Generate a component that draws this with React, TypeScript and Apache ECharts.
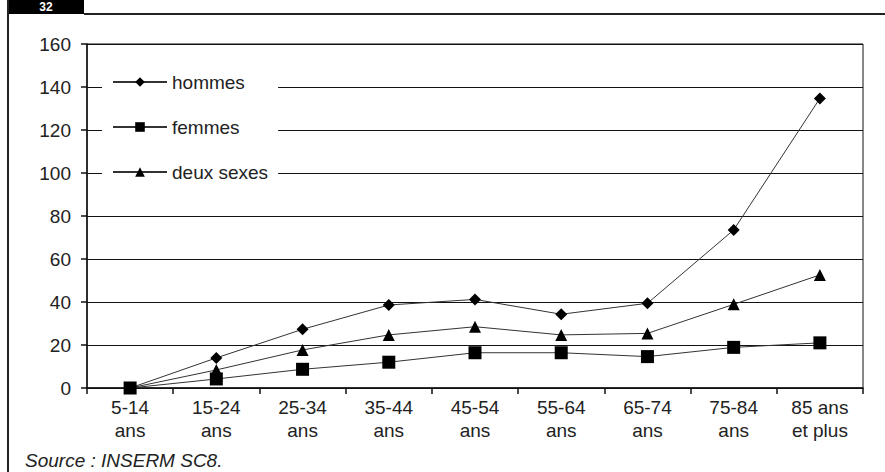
import React, { useEffect, useRef } from "react";
import * as echarts from "echarts";

const categories = [
  "5-14\nans",
  "15-24\nans",
  "25-34\nans",
  "35-44\nans",
  "45-54\nans",
  "55-64\nans",
  "65-74\nans",
  "75-84\nans",
  "85 ans\net plus",
];
const hommes = [0, 14, 27.3, 38.6, 41.2, 34.3, 39.4, 73.5, 134.7];
const femmes = [0, 4.2, 8.7, 12, 16.4, 16.4, 14.6, 18.9, 21];
const deuxSexes = [0, 8.4, 17.7, 24.7, 28.5, 24.7, 25.4, 38.9, 52.6];
const yTicks = { min: 0, max: 160, interval: 20 };
const seriesNames = ["hommes", "femmes", "deux sexes"];
const sourceText = "Source : INSERM SC8.";
const tabLabel = "32";

const FONT = "'Liberation Sans', Arial, sans-serif";

export default function App() {
  const ref = useRef<HTMLDivElement>(null);
  useEffect(() => {
    if (!ref.current) return;
    const chart = echarts.init(ref.current, undefined, { renderer: "svg" });
    const lineStyle = { color: "#333", width: 1 };
    const itemStyle = { color: "#000", borderColor: "#000", borderWidth: 0 };
    chart.setOption({
      animation: false,
      backgroundColor: "#fff",
      textStyle: { fontFamily: FONT },
      grid: {
        left: 87,
        right: 22,
        top: 44,
        bottom: 84,
        show: true,
        borderColor: "#111",
        borderWidth: 1,
        backgroundColor: "transparent",
      },
      legend: {
        orient: "vertical",
        left: 102,
        top: 64,
        padding: [8, 10, 8, 10],
        backgroundColor: "#fff",
        itemWidth: 54,
        itemHeight: 12,
        itemGap: 25,
        textStyle: { fontSize: 19, color: "#222", fontFamily: FONT, lineHeight: 20 },
        data: seriesNames,
      },
      xAxis: {
        type: "category",
        data: categories,
        boundaryGap: true,
        axisLine: { lineStyle: { color: "#111", width: 1.5 } },
        axisTick: { show: true, length: 6, lineStyle: { color: "#111", width: 1.5 } },
        axisLabel: {
          fontSize: 19,
          color: "#222",
          lineHeight: 23,
          margin: 8,
          interval: 0,
          fontFamily: FONT,
        },
        splitLine: { show: false },
      },
      yAxis: {
        type: "value",
        min: yTicks.min,
        max: yTicks.max,
        interval: yTicks.interval,
        axisLine: { show: true, lineStyle: { color: "#111", width: 1.5 } },
        axisTick: { show: true, length: 6, lineStyle: { color: "#111", width: 1.5 } },
        axisLabel: { fontSize: 19, color: "#222", margin: 16, fontFamily: FONT },
        splitLine: { show: true, lineStyle: { color: "#111", width: 1.2 } },
      },
      graphic: [
        {
          type: "rect",
          shape: { x: 7, y: 0, width: 77, height: 14 },
          style: { fill: "#000" },
          z: 10,
        },
        {
          type: "text",
          x: 46,
          y: 1,
          style: {
            text: tabLabel,
            fill: "#fff",
            fontSize: 12,
            fontWeight: "bold",
            fontFamily: FONT,
            align: "center",
            verticalAlign: "top",
          },
          z: 11,
        },
        {
          type: "line",
          shape: { x1: 84, y1: 14, x2: 885, y2: 14 },
          style: { stroke: "#222", lineWidth: 2 },
          z: 10,
        },
        {
          type: "line",
          shape: { x1: 8, y1: 0, x2: 8, y2: 472 },
          style: { stroke: "#222", lineWidth: 2 },
          z: 10,
        },
        {
          type: "text",
          x: 25,
          y: 451,
          style: {
            text: sourceText,
            fill: "#222",
            fontSize: 19,
            fontStyle: "italic",
            fontFamily: FONT,
          },
          z: 10,
        },
      ],
      series: [
        {
          name: seriesNames[0],
          type: "line",
          data: hommes,
          symbol: "diamond",
          symbolSize: 12,
          lineStyle,
          itemStyle,
          z: 5,
        },
        {
          name: seriesNames[1],
          type: "line",
          data: femmes,
          symbol: "rect",
          symbolSize: 13,
          lineStyle,
          itemStyle,
          z: 5,
        },
        {
          name: seriesNames[2],
          type: "line",
          data: deuxSexes,
          symbol: "triangle",
          symbolSize: 12,
          lineStyle,
          itemStyle,
          z: 5,
        },
      ],
    });
    return () => chart.dispose();
  }, []);
  return (
    <div
      ref={ref}
      style={{ position: "fixed", left: 0, top: 0, width: 885, height: 472 }}
    />
  );
}
